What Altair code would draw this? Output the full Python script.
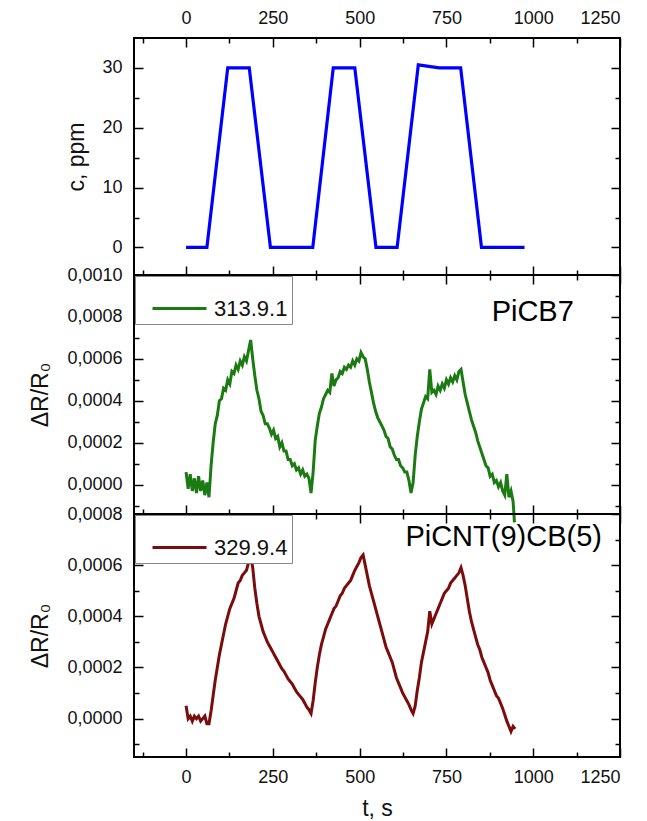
import altair as alt
import pandas as pd

FONT = "Liberation Sans"

# ---- top panel: concentration, ppm ----
T_C = [0, 60, 120, 182, 243, 365, 424, 486, 547, 608, 669, 729, 791, 851, 975]
C_PPM = [0, 0, 30, 30, 0, 0, 30, 30, 0, 0, 30.5, 30, 30, 0, 0]

# ---- middle panel: 313.9.1 (PiCB7), dR/R0 in units of 1e-4 ----
T_G = list(range(0, 948, 6)) + [946]
G_E4 = [
    0.6, -0.2, 0.5, -0.3, 0.3, -0.4, 0.4, -0.3, 0.2, -0.5,
    0.1, -0.6, 0.9, 2.0, 2.9, 3.3, 4.0, 4.1, 4.6, 4.5,
    5.0, 4.8, 5.4, 5.3, 5.7, 5.5, 5.9, 5.7, 6.1, 5.9,
    6.4, 6.9, 6.0, 5.2, 4.5, 4.1, 3.5, 3.3, 2.9, 2.9,
    2.7, 2.4, 2.6, 2.2, 2.3, 1.8, 2.0, 1.6, 1.6, 1.2,
    1.2, 0.9, 1.0, 0.7, 0.8, 0.5, 0.7, 0.4, 0.5, 0.3,
    -0.4, 0.6, 2.1, 2.8, 3.4, 3.7, 4.1, 4.3, 4.5, 4.4,
    5.3, 4.7, 5.0, 5.1, 5.4, 5.3, 5.6, 5.5, 5.7, 5.6,
    5.9, 5.7, 6.0, 5.9, 6.3, 6.1, 6.0, 5.5, 4.9, 4.4,
    3.9, 3.5, 3.2, 3.0, 2.8, 2.6, 2.3, 2.2, 1.8, 1.7,
    1.4, 1.2, 1.2, 0.9, 0.8, 0.6, 0.6, 0.2, -0.4, 0.1,
    1.4, 2.3, 3.0, 3.6, 3.9, 4.2, 4.1, 5.5, 4.4, 4.5,
    4.3, 4.7, 4.5, 4.8, 4.6, 5.0, 4.8, 5.1, 4.9, 5.2,
    5.0, 5.4, 5.5, 4.9, 4.3, 3.9, 3.5, 3.1, 2.8, 2.5,
    2.1, 1.8, 1.5, 1.2, 0.9, 0.8, 0.4, 0.5, 0.1, 0.2,
    -0.1, 0.1, -0.3, -0.5, 0.5, -0.6, -0.3, -0.8,
    -1.8,
]

# ---- bottom panel: 329.9.4 (PiCNT(9)CB(5)), dR/R0 in units of 1e-4 ----
T_R = list(range(0, 954, 6))
R_E4 = [
    0.5, 0.0, 0.1, -0.1, 0.1, 0.0, 0.1, -0.1, 0.0, 0.1,
    -0.2, -0.2, 0.3, 0.9, 1.5, 2.0, 2.5, 2.9, 3.3, 3.7,
    4.0, 4.3, 4.5, 4.7, 5.0, 5.3, 5.4, 5.6, 5.7, 5.8,
    6.1, 6.4, 5.9, 5.1, 4.5, 4.0, 3.7, 3.4, 3.2, 3.0,
    2.85, 2.7, 2.55, 2.4, 2.25, 2.1, 1.95, 1.85, 1.7, 1.55,
    1.45, 1.35, 1.2, 1.05, 0.95, 0.85, 0.75, 0.6, 0.45, 0.35,
    0.2, 0.7, 1.4, 2.0, 2.5, 2.9, 3.2, 3.5, 3.7, 3.9,
    4.1, 4.3, 4.4, 4.6, 4.8, 4.9, 5.1, 5.2, 5.3, 5.4,
    5.6, 5.8, 5.95, 6.1, 6.3, 6.4, 6.0, 5.6, 5.2, 4.9,
    4.6, 4.3, 4.0, 3.7, 3.4, 3.1, 2.8, 2.6, 2.4, 2.2,
    1.9, 1.6, 1.4, 1.2, 1.0, 0.85, 0.7, 0.55, 0.35, 0.2,
    0.5, 1.1, 1.6, 2.2, 2.6, 3.0, 3.4, 4.2, 3.7, 3.9,
    4.1, 4.3, 4.5, 4.7, 4.9, 5.0, 5.1, 5.3, 5.4, 5.5,
    5.6, 5.7, 5.9, 5.6, 5.2, 4.7, 4.2, 3.8, 3.5, 3.2,
    2.9, 2.7, 2.4, 2.2, 2.0, 1.8, 1.5, 1.3, 1.1, 0.9,
    0.8, 0.6, 0.4, 0.15, -0.1, -0.3, -0.5, -0.3, -0.4,
]

SERIES_G = "313.9.1"
SERIES_R = "329.9.4"
LABEL_G = "PiCB7"
LABEL_R = "PiCNT(9)CB(5)"
ANNOT_G = {"t": [1117], "v": [0.000824], "label": [LABEL_G]}
ANNOT_R = {"t": [1198], "v": [0.000710], "label": [LABEL_R]}

X_DOMAIN = [-150, 1250]
X_MAJOR = [0, 250, 500, 750, 1000, 1250]
X_MINOR = [-125, 125, 375, 625, 875, 1125]

C_DOMAIN = [-4.6, 35]
C_MAJOR = [0, 10, 20, 30]
C_MINOR = [5, 15, 25]

G_DOMAIN = [-0.00014, 0.0010]
G_MAJOR = [0.0, 0.0002, 0.0004, 0.0006, 0.0008, 0.0010]
G_MINOR = [-0.0001, 0.0001, 0.0003, 0.0005, 0.0007, 0.0009]

R_DOMAIN = [-0.00015, 0.0008]
R_MAJOR = [0.0, 0.0002, 0.0004, 0.0006, 0.0008]
R_MINOR = [-0.0001, 0.0001, 0.0003, 0.0005, 0.0007]

df_c = pd.DataFrame({"t": T_C, "v": C_PPM})
df_g = pd.DataFrame({"t": T_G, "v": [x * 1e-4 for x in G_E4], "s": SERIES_G})
df_r = pd.DataFrame({"t": T_R, "v": [x * 1e-4 for x in R_E4], "s": SERIES_R})

W = 486
COMMA = "replace(format(datum.value, '.4f'), '.', ',')"


def tick_axis(orient, values, size):
    return alt.Axis(orient=orient, values=values, labels=False, domain=False,
                    ticks=True, tickSize=size, offset=-size, title=None,
                    grid=False, tickColor="black", tickWidth=1.5,
                    minExtent=0, maxExtent=0)


def panel(df, ydom, ymaj, ymin, h, ytitle, ytitle_pad, labexpr, xlab,
          color, legend_name=None, annot=None):
    xs = alt.Scale(domain=X_DOMAIN, nice=False, zero=False)
    ys = alt.Scale(domain=ydom, nice=False, zero=False)
    if xlab is None:
        xax = None
    elif xlab == "bottom":
        xax = alt.Axis(orient="bottom", values=X_MAJOR, format="d", ticks=False,
                       domain=False, labelPadding=11, title="t, s",
                       titlePadding=11, grid=False)
    else:
        xax = alt.Axis(orient="top", values=X_MAJOR, format="d", ticks=False,
                       domain=False, labelPadding=11, title=None, grid=False)
    yargs = dict(orient="left", values=ymaj, ticks=False, domain=False,
                 labelPadding=12, title=ytitle, titlePadding=ytitle_pad, grid=False)
    if labexpr:
        yargs["labelExpr"] = labexpr
    yax = alt.Axis(**yargs)

    enc = dict(x=alt.X("t:Q", scale=xs, axis=xax),
               y=alt.Y("v:Q", scale=ys, axis=yax))
    if legend_name:
        enc["color"] = alt.Color(
            "s:N",
            scale=alt.Scale(domain=[legend_name], range=[color]),
            legend=alt.Legend(orient="none", legendX=1, legendY=1, title=None,
                              symbolType="stroke", symbolSize=2916,
                              symbolStrokeWidth=3, labelFontSize=22,
                              labelFont=FONT, labelColor="#111",
                              padding=4, strokeColor="#888",
                              fillColor="white", symbolOffset=12,
                              labelOffset=6),
        )
        main = alt.Chart(df).mark_line(strokeWidth=3).encode(**enc)
    else:
        main = alt.Chart(df).mark_line(strokeWidth=3.2, color=color).encode(**enc)

    layers = [main]
    for xo, yo, xv, yv, size in [
        ("bottom", "left", X_MAJOR, ymaj, 9),
        ("bottom", "left", X_MINOR, ymin, 5),
        ("top", "right", X_MAJOR, ymaj, 9),
        ("top", "right", X_MINOR, ymin, 5),
    ]:
        layers.append(
            alt.Chart(df).mark_line(strokeOpacity=0).encode(
                x=alt.X("t:Q", scale=xs, axis=tick_axis(xo, xv, size)),
                y=alt.Y("v:Q", scale=ys, axis=tick_axis(yo, yv, size)),
            )
        )
    if annot is not None:
        layers.append(
            alt.Chart(pd.DataFrame(annot)).mark_text(
                align="right", baseline="middle", font=FONT, fontSize=29,
                color="black"
            ).encode(
                x=alt.X("t:Q", scale=xs, axis=None),
                y=alt.Y("v:Q", scale=ys, axis=None),
                text="label:N",
            )
        )
    return alt.layer(*layers).resolve_axis(x="independent", y="independent").properties(
        width=W, height=h
    )


top = panel(df_c, C_DOMAIN, C_MAJOR, C_MINOR, 237, "c, ppm", 13, None, "top", "#0000ff")
mid = panel(df_g, G_DOMAIN, G_MAJOR, G_MINOR, 239, "ΔR/R₀", 14, COMMA, None,
            "#1b7a12", legend_name=SERIES_G, annot=ANNOT_G)
bot = panel(df_r, R_DOMAIN, R_MAJOR, R_MINOR, 243, "ΔR/R₀", 14, COMMA, "bottom",
            "#7a0c0c", legend_name=SERIES_R, annot=ANNOT_R)

chart = (
    alt.vconcat(top, mid, bot, spacing=0, bounds="flush")
    .resolve_scale(color="independent")
    .properties(padding={"left": 28, "top": 8, "right": 5, "bottom": 0},
                background="white")
    .configure_view(stroke="black", strokeWidth=2)
    .configure_axis(labelFont=FONT, labelFontSize=18, labelColor="#111",
                    titleFont=FONT, titleFontSize=23, titleFontWeight="normal",
                    titleColor="#111", grid=False)
)

chart.save("out.html", embed_options={"renderer": "svg", "actions": False})
